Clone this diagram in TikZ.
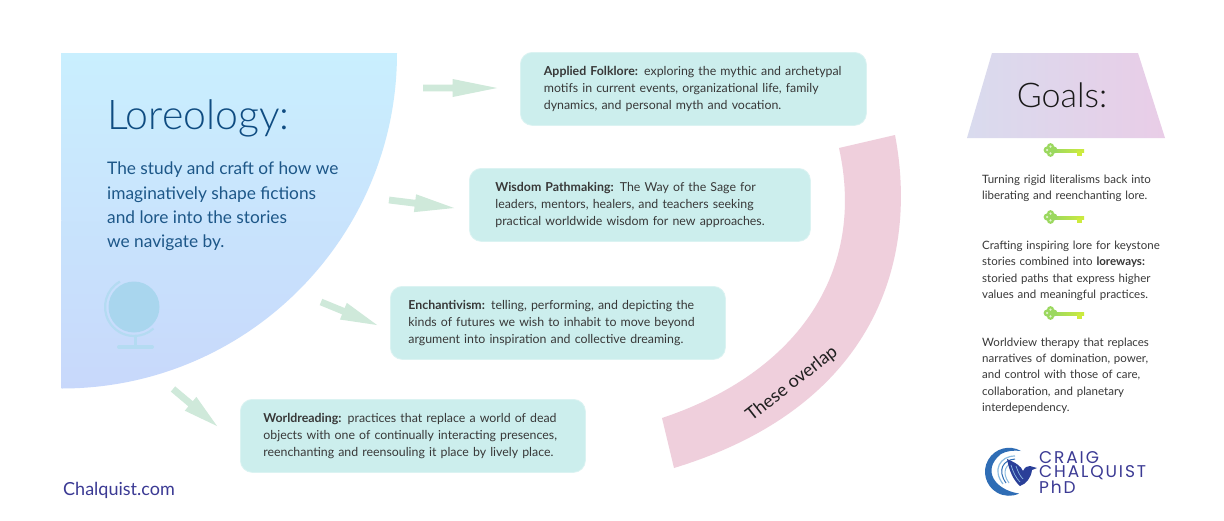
\documentclass[tikz,border=0pt]{standalone}
\usepackage{fontspec}
\setmainfont{Lato}
\newfontfamily\lorelight{Lato Light}
\newfontfamily\logofont[LetterSpace=11]{Poppins}
\usetikzlibrary{calc,positioning,shapes.geometric}

\definecolor{loreTop}{HTML}{C9EFFE}
\definecolor{loreBottom}{HTML}{C8D8FB}
\definecolor{loreInk}{HTML}{0F4C81}
\definecolor{loreBody}{HTML}{1D5788}
\definecolor{globeBlue}{HTML}{A9D6EE}
\definecolor{globeRim}{HTML}{B4DBF2}
\definecolor{boxTeal}{HTML}{CCEEED}
\definecolor{arrowGreen}{HTML}{CFE9DA}
\definecolor{bandPink}{HTML}{EFCFDC}
\definecolor{goalsLeft}{HTML}{D9DBEE}
\definecolor{goalsRight}{HTML}{E9CDE7}
\definecolor{keyGreen}{HTML}{9BD85F}
\definecolor{keyYellow}{HTML}{CDEB3E}
\definecolor{logoInk}{HTML}{3B3A94}
\definecolor{logoDeep}{HTML}{2A3F98}
\definecolor{logoBlue}{HTML}{2F6DB5}
\definecolor{logoLight}{HTML}{8CBBE0}

\tikzset{
  lorebox/.style={fill=boxTeal,draw=boxTeal!70!white,line width=.8pt,rounded corners=12pt,
    minimum height=73pt,inner ysep=0pt,anchor=north west,align=left,
    font=\fontsize{12.35}{17}\selectfont,text=black!78},
  goaltext/.style={anchor=north west,align=left,inner sep=0pt,text width=190pt,
    font=\fontsize{11.5}{16.3}\selectfont,text=black!78},
  blockarrow/.style={fill=arrowGreen},
  goalkey/.pic={
    \path[left color=keyGreen,right color=keyYellow] (10,-1.5) rectangle (41,1.5);
    \fill[keyYellow] (34,0) rectangle (39,5);
    \foreach \a in {90,180,270,0}{
      \fill[keyGreen] ($(7.5,-1)+(\a:3.3)$) circle (3.6);
    }
    \foreach \a in {90,180,270}{
      \fill[white!70!keyGreen] ($(7.5,-1)+(\a:3.4)$) circle (1.2);
    }
  }
}

\newcommand{\blockarrowdraw}[2]{%
  \fill[blockarrow] ($(#1)!3.4pt!90:(#2)$) -- ($(#1)!.40!(#2)!3.4pt!90:(#2)$)
    -- ($(#1)!.40!(#2)!9pt!90:(#2)$) -- (#2) -- ($(#1)!.40!(#2)!9pt!-90:(#2)$)
    -- ($(#1)!.40!(#2)!3.4pt!-90:(#2)$) -- ($(#1)!3.4pt!-90:(#2)$) -- cycle;
}

\begin{document}
\begin{tikzpicture}[x=1pt,y=-1pt]

  \useasboundingbox (0,0) rectangle (1224,520);
  \fill[white] (0,0) rectangle (1224,520);

  % quarter disc
  \path[top color=loreTop,bottom color=loreBottom] (61,53) -- (397,53)
    arc [start angle=0,end angle=-90,radius=335.5pt] -- cycle;

  \node [anchor=base west,inner sep=0pt,text=loreInk,font=\lorelight\fontsize{41}{41}\selectfont] at(107,129) (lore_title) {Loreology:};
  \node [anchor=north west,inner sep=0pt,align=left,text=loreBody,font=\fontsize{17.3}{24.2}\selectfont] at(107,162) (lore_text)
    {The study and craft of how we\\imaginatively shape fictions\\and lore into the stories\\we navigate by.};

  % globe
  \fill[globeBlue] (134,307) circle (25.5);
  \draw[globeRim,line width=2.2pt] (120,281.6) arc [start angle=119,end angle=312,radius=29pt];
  \draw[globeRim,line width=3pt] (135,336) -- (135,347);
  \draw[globeRim,line width=4pt,line cap=round] (119,347) -- (152,347);

  % topic boxes
  \node [lorebox,inner xsep=23.5pt,text width=299pt] at(520,52) (folklore) {\textbf{Applied Folklore:} exploring the mythic and archetypal\\motifs in current events, organizational life, family\\dynamics, and personal myth and vocation.};
  \node [lorebox,inner xsep=26pt,text width=289pt] at(469,168) (pathmaking) {\textbf{Wisdom Pathmaking:} The Way of the Sage for\\leaders, mentors, healers, and teachers seeking\\practical worldwide wisdom for new approaches.};
  \node [lorebox,inner xsep=18pt,text width=299pt] at(390,286) (enchantivism) {\textbf{Enchantivism:} telling, performing, and depicting the\\kinds of futures we wish to inhabit to move beyond\\argument into inspiration and collective dreaming.};
  \node [lorebox,inner xsep=23pt,text width=299pt] at(240,399) (worldreading) {\textbf{Worldreading:} practices that replace a world of dead\\objects with one of continually interacting presences,\\reenchanting and reensouling it place by lively place.};

  % block arrows
  \coordinate (tail_a) at(423,88);
  \coordinate (tip_a) at(497,88);
  \coordinate (tail_b) at(389,200);
  \coordinate (tip_b) at(454,208);
  \coordinate (tail_c) at(321,302);
  \coordinate (tip_c) at(377,325);
  \coordinate (tail_d) at(173,389);
  \coordinate (tip_d) at(217,426);
  \foreach \n in {a,b,c,d}{
    \blockarrowdraw{tail_\n}{tip_\n}
  }

  % pink band
  \fill[bandPink] (895,135) .. controls (918,255) and (880,405) .. (674,468)
    -- (662,418) .. controls (800,372) and (866,270) .. (839,148) -- cycle;
  \node [rotate=38,inner sep=0pt,font=\fontsize{18}{20}\selectfont,text=black!88] at(792,384) (overlap) {These overlap};

  % goals
  \path[left color=goalsLeft,right color=goalsRight] (992,53) -- (1138,53) -- (1165,138) -- (967,138) -- cycle;
  \node [inner sep=0pt,font=\lorelight\fontsize{34}{34}\selectfont,text=black!90] at(1062,95) (goals) {Goals:};

  \pic at(1043,151) {goalkey};
  \pic at(1043,218) {goalkey};
  \pic at(1043,314) {goalkey};

  \node [goaltext] at(982,175) (goal_one) {Turning rigid literalisms back into\\liberating and reenchanting lore.};
  \node [goaltext] at(982,241) (goal_two) {Crafting inspiring lore for keystone\\stories combined into \textbf{loreways:}\\storied paths that express higher\\values and meaningful practices.};
  \node [goaltext] at(982,337.5) (goal_three) {Worldview therapy that replaces\\narratives of domination, power,\\and control with those of care,\\collaboration, and planetary\\interdependency.};

  % logo
  \fill[logoBlue] (1021,451) arc [start angle=60,end angle=295,radius=24pt]
    .. controls (995,490) and (981,470) .. (1001,454) .. controls (1006,451) and (1014,450) .. (1021,451) -- cycle;
  \draw[logoLight,line width=1.2pt] (1015,456) .. controls (1000,456) and (992,470) .. (1003,484);
  \draw[logoBlue,line width=1pt] (1015,459) .. controls (1003,460) and (997,470) .. (1006,483);
  \draw[logoLight,line width=1pt] (1015,463) .. controls (1006,463) and (1001,472) .. (1009,483);
  \fill[logoDeep] (1007,459) .. controls (1016,463) and (1021,466) .. (1023,471)
    .. controls (1025,467) and (1027,466) .. (1030,466) -- (1037,468) -- (1032,470)
    .. controls (1031,478) and (1026,484) .. (1020,486) .. controls (1013,480) and (1009,470) .. (1007,459) -- cycle;
  \draw[logoLight,line width=.7pt] (1011,465) .. controls (1013,472) and (1016,478) .. (1020,482);
  \draw[logoLight,line width=.7pt] (1016,466) .. controls (1018,472) and (1020,476) .. (1023,479);
  \node [anchor=north west,inner sep=0pt,align=left,text=logoInk,font=\logofont\fontsize{17}{14.5}\selectfont] at(1039,451) (logo_text) {CRAIG\\CHALQUIST\\PhD};

  \node [anchor=base west,inner sep=0pt,text=logoInk,font=\fontsize{18}{18}\selectfont] at(63,495) (site) {Chalquist.com};

\end{tikzpicture}
\end{document}
